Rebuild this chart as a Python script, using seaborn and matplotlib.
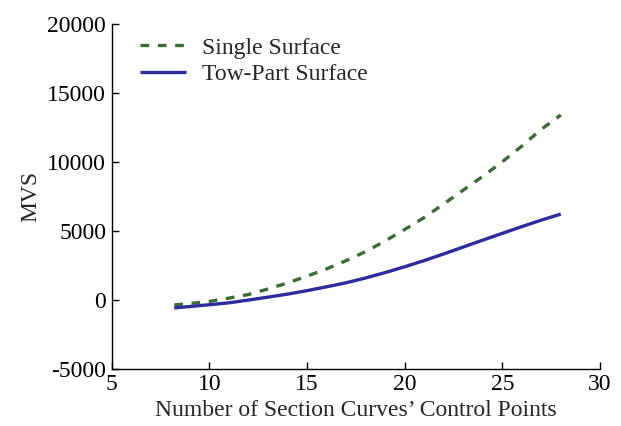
import matplotlib
matplotlib.use("Agg")
import matplotlib.pyplot as plt
import seaborn as sns
import pandas as pd

# values
x_points = [8.2, 9, 10, 11, 12, 13, 14, 15, 16, 17, 18, 19, 20, 21, 22, 23, 24, 25, 26, 27, 28]
single_surface = [-360, -260, -110, 130, 390, 790, 1230, 1720, 2250, 2840, 3500, 4270, 5100,
                  5967, 6954, 7950, 8950, 10005, 11140, 12360, 13400]
two_part_surface = [-580, -480, -350, -210, -10, 200, 420, 670, 950, 1240, 1590, 1980, 2400,
                    2850, 3330, 3830, 4330, 4820, 5310, 5780, 6220]

sns.set_style("ticks")
plt.rcParams['font.family'] = ['Liberation Serif', 'DejaVu Serif']
plt.rcParams['axes.unicode_minus'] = False
plt.rcParams['xtick.direction'] = 'in'
plt.rcParams['ytick.direction'] = 'in'

df = pd.DataFrame({
    "x": x_points * 2,
    "MVS": single_surface + two_part_surface,
    "Series": ["Single Surface"] * len(x_points) + ["Tow-Part Surface"] * len(x_points),
})

fig = plt.figure(figsize=(6.21, 4.26), dpi=100)
ax = fig.add_axes([0.180, 0.134, 0.786, 0.810])

sns.lineplot(data=df, x="x", y="MVS", hue="Series", style="Series",
             palette=["#3d6b37", "#2c2c9c"], dashes=[(2.6, 2.6), (1, 0)],
             linewidth=2.4, ax=ax)

ax.set_xlim(5, 30)
ax.set_ylim(-5000, 20000)
ax.set_xticks([5, 10, 15, 20, 25, 30])
ax.set_yticks([-5000, 0, 5000, 10000, 15000, 20000])
ax.tick_params(direction="in", labelsize=17, length=5, width=1, colors="black", pad=4)
ax.set_xlabel("Number of Section Curves’ Control Points", fontsize=17, labelpad=3)
ax.set_ylabel("MVS", fontsize=17, labelpad=4)
sns.despine(ax=ax)
for s in ["left", "bottom"]:
    ax.spines[s].set_linewidth(1)
    ax.spines[s].set_color("black")

leg = ax.legend(loc="upper left", bbox_to_anchor=(0.015, 1.023), frameon=False,
                fontsize=17, handlelength=1.95, handletextpad=0.65, labelspacing=0.2, title=None)

fig.savefig("out.png", dpi=100)
